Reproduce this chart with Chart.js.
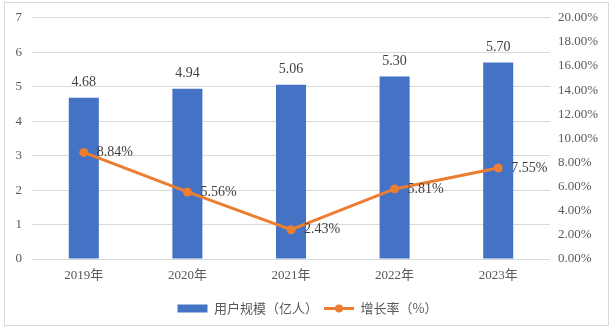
<!DOCTYPE html>
<html>
<head>
<meta charset="utf-8">
<script src="https://cdn.jsdelivr.net/npm/chart.js@4/dist/chart.umd.min.js"></script>
<style>
  html, body { margin: 0; padding: 0; background: #fff; }
  #wrap { position: relative; width: 615px; height: 329px; }
  #frame { position: absolute; left: 4px; top: 2px; width: 603px; height: 322px; border: 1px solid #d9d9d9; pointer-events: none; }
</style>
</head>
<body>
<div id="wrap">
  <canvas id="chart" width="615" height="329"></canvas>
  <div id="frame"></div>
</div>
<script>
var years = ['2019年', '2020年', '2021年', '2022年', '2023年'];
var users = [4.68, 4.94, 5.06, 5.30, 5.70];
var growth = [8.84, 5.56, 2.43, 5.81, 7.55];
var seriesNames = ['用户规模（亿人）', '增长率（%）'];

var serif = "'Liberation Serif', 'Times New Roman', 'Noto Sans CJK SC', serif";
var cjk = "'Noto Sans CJK SC', sans-serif";

// value labels, drawn from the element positions
var valueLabels = {
    id: 'valueLabels',
    afterDatasetsDraw: function(chart) {
        var ctx = chart.ctx;
        ctx.save();
        ctx.font = '14px ' + serif;
        ctx.fillStyle = '#404040';
        chart.getDatasetMeta(0).data.forEach(function(bar, i) {
            ctx.textAlign = 'center';
            ctx.textBaseline = 'middle';
            ctx.fillText(users[i].toFixed(2), bar.x, bar.y - 15);
        });
        chart.getDatasetMeta(1).data.forEach(function(pt, i) {
            ctx.textAlign = 'left';
            ctx.textBaseline = 'middle';
            ctx.fillText(growth[i].toFixed(2) + '%', pt.x + 13, pt.y);
        });
        ctx.restore();
    }
};

// dot on the line legend item
var legendDot = {
    id: 'legendDot',
    afterDraw: function(chart) {
        var lg = chart.legend;
        if (!lg || !lg.legendHitBoxes[1]) return;
        var box = lg.legendHitBoxes[1];
        var ctx = chart.ctx;
        ctx.save();
        ctx.fillStyle = '#ED7D31';
        ctx.beginPath();
        ctx.arc(box.left + 15, box.top + 6.5, 4, 0, Math.PI * 2);
        ctx.fill();
        ctx.restore();
    }
};

new Chart(document.getElementById('chart').getContext('2d'), {
    type: 'bar',
    data: {
        labels: years,
        datasets: [
            {
                label: seriesNames[0],
                data: users,
                backgroundColor: '#4472C4',
                barPercentage: 0.29,
                categoryPercentage: 1,
                yAxisID: 'y',
                order: 1
            },
            {
                label: seriesNames[1],
                type: 'line',
                data: growth,
                borderColor: '#ED7D31',
                backgroundColor: '#ED7D31',
                borderWidth: 3,
                pointRadius: 4.5,
                pointBackgroundColor: '#ED7D31',
                pointBorderWidth: 0,
                tension: 0,
                yAxisID: 'y1',
                order: 0
            }
        ]
    },
    options: {
        responsive: false,
        animation: false,
        layout: { padding: { top: 17, bottom: 4 } },
        plugins: {
            tooltip: { enabled: false },
            legend: {
                position: 'bottom',
                labels: {
                    usePointStyle: true,
                    pointStyleWidth: 30,
                    boxHeight: 8,
                    padding: 6,
                    color: '#595959',
                    font: { size: 13, family: cjk },
                    generateLabels: function() {
                        return [
                            { text: seriesNames[0], fillStyle: '#4472C4', strokeStyle: '#4472C4', lineWidth: 0, pointStyle: 'rect', datasetIndex: 0, fontColor: '#595959' },
                            { text: seriesNames[1], fillStyle: '#ED7D31', strokeStyle: '#ED7D31', lineWidth: 3, pointStyle: 'line', datasetIndex: 1, fontColor: '#595959' }
                        ];
                    }
                }
            }
        },
        scales: {
            x: {
                grid: { display: false },
                border: { display: false },
                ticks: { color: '#595959', padding: 1, font: { size: 13, family: serif } },
                afterFit: function(s) { s.height = 37; }
            },
            y: {
                position: 'left',
                min: 0,
                max: 7,
                ticks: { stepSize: 1, color: '#595959', padding: 10, font: { size: 13, family: serif } },
                grid: { color: '#D9D9D9', drawTicks: false },
                border: { display: false },
                afterFit: function(s) { s.width = 32; }
            },
            y1: {
                position: 'right',
                min: 0,
                max: 20,
                ticks: {
                    stepSize: 2,
                    color: '#595959',
                    padding: 8,
                    font: { size: 13, family: serif },
                    callback: function(v) { return v.toFixed(2) + '%'; }
                },
                grid: { drawOnChartArea: false, drawTicks: false },
                border: { display: false },
                afterFit: function(s) { s.width = 65; }
            }
        }
    },
    plugins: [valueLabels, legendDot]
});
</script>
</body>
</html>
